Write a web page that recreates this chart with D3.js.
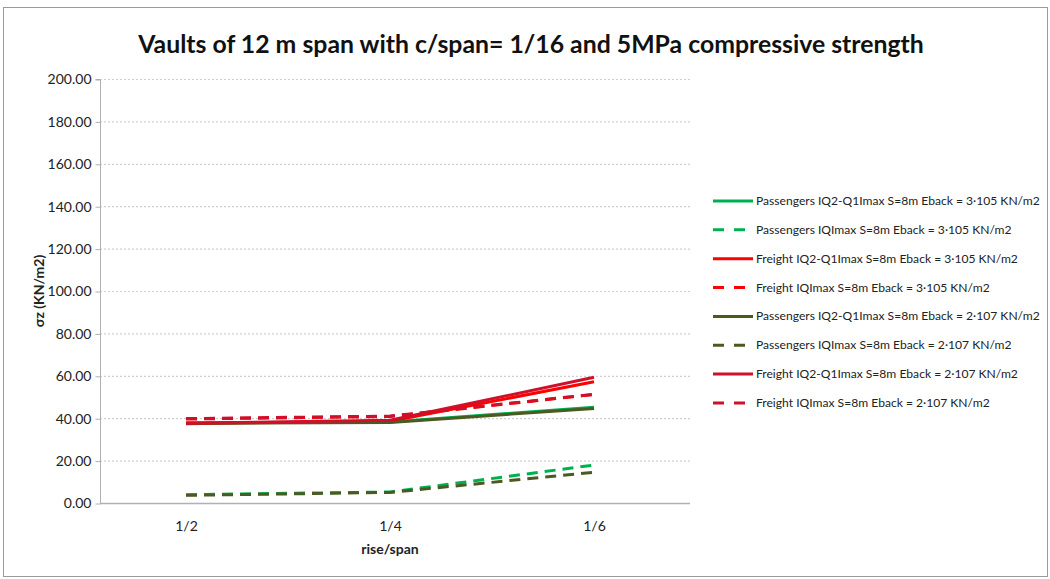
<!DOCTYPE html>
<html><head><meta charset="utf-8">
<script src="https://cdn.jsdelivr.net/npm/d3@7"></script>
<style>body{margin:0;background:#fff}svg{display:block}</style>
</head><body>
<svg id="c" width="1050" height="579"></svg>
<script>
const categories = ["1/2", "1/4", "1/6"];
const yTicks = [0, 20, 40, 60, 80, 100, 120, 140, 160, 180, 200];
const seriesNames = [
  "Passengers IQ2-Q1Imax S=8m Eback = 3·105 KN/m2",
  "Passengers IQImax S=8m Eback = 3·105 KN/m2",
  "Freight IQ2-Q1Imax S=8m Eback = 3·105 KN/m2",
  "Freight IQImax S=8m Eback = 3·105 KN/m2",
  "Passengers IQ2-Q1Imax S=8m Eback = 2·107 KN/m2",
  "Passengers IQImax S=8m Eback = 2·107 KN/m2",
  "Freight IQ2-Q1Imax S=8m Eback = 2·107 KN/m2",
  "Freight IQImax S=8m Eback = 2·107 KN/m2"
];
const pass3Solid = [37.8, 38.2, 45.2];
const pass3Dash = [3.9, 5.2, 17.9];
const frt3Solid = [37.4, 38.6, 57.2];
const frt3Dash = [39.6, 40.8, 51.2];
const pass2Solid = [37.6, 38.0, 44.6];
const pass2Dash = [3.6, 5.0, 14.5];
const frt2Solid = [37.6, 39.0, 59.3];
const frt2Dash = [39.8, 41.0, 51.3];
const seriesValues = [pass3Solid, pass3Dash, frt3Solid, frt3Dash, pass2Solid, pass2Dash, frt2Solid, frt2Dash];
const seriesColors = ["#00B050", "#00B050", "#FF0000", "#FF0000", "#4A5A22", "#4A5A22", "#D0102A", "#D0102A"];
const seriesDashed = [false, true, false, true, false, true, false, true];

const svg = d3.select("#c");
const font = "Lato, 'Open Sans', sans-serif";

function fitSize(sel, target, base) {
  sel.attr("font-size", base);
  const w = sel.node().getComputedTextLength();
  return base * target / w;
}

svg.append("rect").attr("x", 3.5).attr("y", 7.5).attr("width", 1044).attr("height", 569)
  .attr("fill", "#fff").attr("stroke", "#9a9a9a").attr("stroke-width", 1);

const plotL = 100, plotR = 690, plotT = 79, plotB = 503;
const x = d3.scalePoint().domain(categories).range([186, 594]);
const y = d3.scaleLinear().domain([0, 200]).range([plotB, plotT]);

// gridlines
svg.append("g").selectAll("line").data(yTicks.filter(d => d > 0)).join("line")
  .attr("x1", plotL).attr("x2", plotR)
  .attr("y1", d => y(d) + 0.5).attr("y2", d => y(d) + 0.5)
  .attr("stroke", "#cfcfcf").attr("stroke-width", 1.2).attr("stroke-dasharray", "2,2");

// y axis
const yAxis = d3.axisLeft(y).tickValues(yTicks).tickSize(5).tickFormat(d3.format(".2f"));
const gy = svg.append("g").attr("transform", `translate(${plotL + 0.5},0.5)`).call(yAxis);
gy.select(".domain").attr("stroke", "#b0b0b0").attr("d", `M-5,${plotT}H0V${plotB}`);
gy.selectAll(".tick line").attr("stroke", "#b0b0b0");
gy.selectAll(".tick text").attr("x", -9).attr("font-family", font).attr("font-size", 14).attr("fill", "#222");

// x axis
const xAxis = d3.axisBottom(x).tickSize(0);
const gx = svg.append("g").attr("transform", `translate(0,${plotB + 0.5})`).call(xAxis);
gx.select(".domain").attr("stroke", "#b0b0b0").attr("stroke-width", 1.5).attr("d", `M${plotL},0H${plotR}`);
gx.selectAll(".tick text").attr("dy", 0).attr("y", 27).attr("font-family", font).attr("font-size", 14).attr("fill", "#222");

// lines
const line = d3.line().x((d, i) => x(categories[i])).y(d => y(d));
seriesValues.forEach((vals, i) => {
  svg.append("path").datum(vals).attr("d", line).attr("fill", "none")
    .attr("stroke", seriesColors[i]).attr("stroke-width", 3)
    .attr("stroke-dasharray", seriesDashed[i] ? "11,7" : null);
});

// title
const title = svg.append("text").attr("x", 531).attr("y", 53).attr("text-anchor", "middle")
  .attr("font-family", font).attr("font-weight", "bold").attr("fill", "#111")
  .text("Vaults of 12 m span with c/span= 1/16 and 5MPa compressive strength");
title.attr("font-size", fitSize(title, 786, 26));

// axis titles
svg.append("text").attr("transform", "translate(44,291) rotate(-90)").attr("text-anchor", "middle")
  .attr("font-family", font).attr("font-weight", "bold").attr("font-size", 14).attr("fill", "#222")
  .text("σz (KN/m2)");
svg.append("text").attr("x", 390).attr("y", 554).attr("text-anchor", "middle")
  .attr("font-family", font).attr("font-weight", "bold").attr("font-size", 14).attr("fill", "#222")
  .text("rise/span");

// legend
const legY0 = 201, legDY = 28.85;
const lg = svg.append("g");
let legSize = 12;
seriesNames.forEach((name, i) => {
  const yy = legY0 + i * legDY;
  lg.append("line").attr("x1", 713).attr("x2", 753).attr("y1", yy).attr("y2", yy)
    .attr("stroke", seriesColors[i]).attr("stroke-width", 3)
    .attr("stroke-dasharray", seriesDashed[i] ? "11,10" : null);
  const t = lg.append("text").attr("x", 756).attr("y", yy + 4).attr("font-family", font)
    .attr("fill", "#222").text(name);
  if (i === 0) legSize = fitSize(t, 284, 12);
  t.attr("font-size", legSize);
});
</script>
</body></html>
